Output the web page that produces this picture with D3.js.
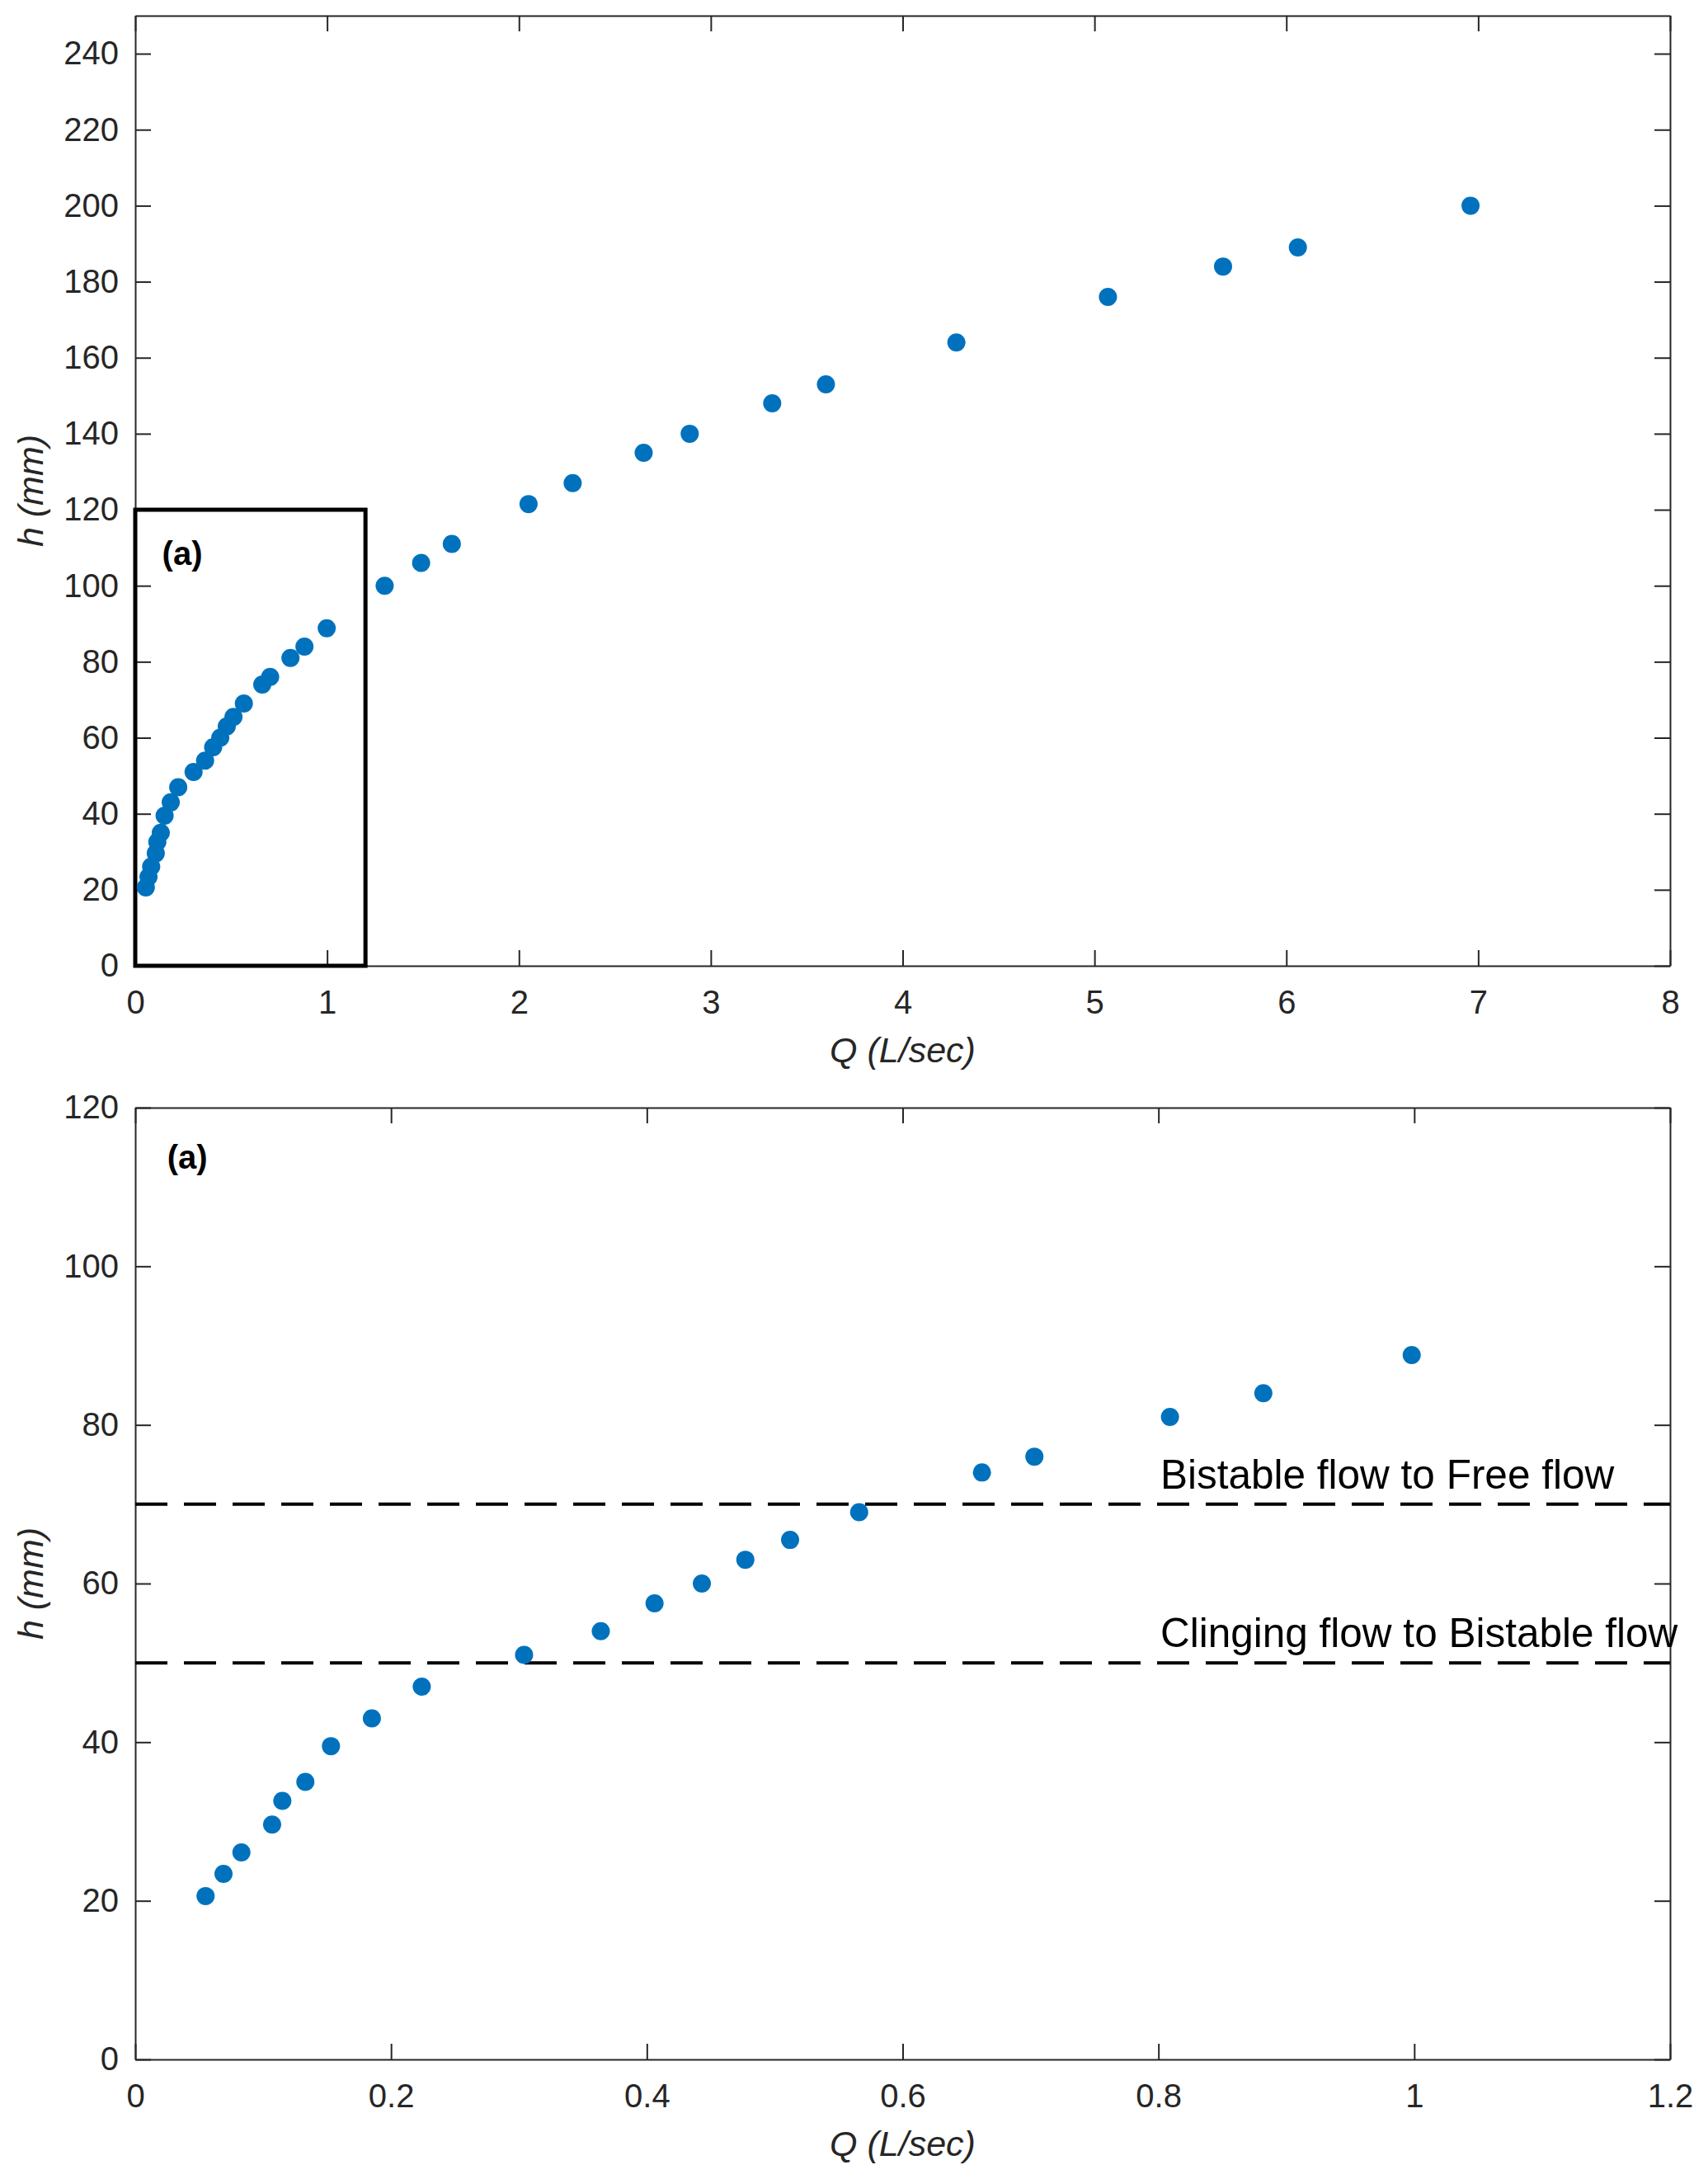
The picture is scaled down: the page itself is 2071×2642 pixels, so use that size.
<!DOCTYPE html>
<html>
<head>
<meta charset="utf-8">
<script src="https://cdn.jsdelivr.net/npm/d3@7/dist/d3.min.js"></script>
<style>
  body { margin: 0; background: #fff; }
  #chart { width: 2071px; height: 2642px; }
</style>
</head>
<body>
<div id="chart"></div>
<script>
// measured points: Q (L/sec) vs h (mm)
const qLow  = [0.055, 0.069, 0.083, 0.107, 0.115, 0.133, 0.153, 0.185, 0.224, 0.304, 0.364,
               0.406, 0.443, 0.477, 0.512, 0.566, 0.662, 0.703, 0.809, 0.882, 0.998];
const hLow  = [20.6, 23.4, 26.1, 29.6, 32.6, 35.0, 39.5, 43.0, 47.0, 51.0, 54.0,
               57.5, 60.0, 63.0, 65.5, 69.0, 74.0, 76.0, 81.0, 84.0, 88.8];
const qHigh = [1.30, 1.49, 1.65, 2.05, 2.28, 2.65, 2.89, 3.32, 3.60, 4.28, 5.07, 5.67, 6.06, 6.96];
const hHigh = [100.0, 106.0, 111.0, 121.5, 127.0, 135.0, 140.0, 148.0, 153.0, 164.0, 176.0, 184.0, 189.0, 200.0];

const xTicksTop    = [0, 1, 2, 3, 4, 5, 6, 7, 8];
const yTicksTop    = [0, 20, 40, 60, 80, 100, 120, 140, 160, 180, 200, 220, 240];
const xTicksBottom = [0, 0.2, 0.4, 0.6, 0.8, 1, 1.2];
const yTicksBottom = [0, 20, 40, 60, 80, 100, 120];

// flow regime thresholds (h, mm)
const regimeH      = [70, 50];
const regimeLabels = ['Bistable flow to Free flow', 'Clinging flow to Bistable flow'];
const zoomExtent   = [1.2, 120];   // Q, h of the framed region in the top panel
const panelLabel   = '(a)';
const xTitle = 'Q (L/sec)';
const yTitle = 'h (mm)';

const chart = {};

chart.create = function(config){
  this.config = config;
  this.config.font = '"Liberation Sans", Arial, sans-serif';
  this.config.axisColor = '#262626';
  this.config.dotColor = '#0072BD';
  this.config.tickLen = 19;
  this.config.svg = d3.select(`#${config.target}`)
                      .append('svg')
                      .attr('width', config.width_svg)
                      .attr('height', config.height_svg);
  this.drawTop();
  this.drawBottom();
}

chart.frame = function(g, x, y, xTicks, yTicks){
  let c = this.config,
      [x0, x1] = x.range(),
      [y0, y1] = y.range(),
      fmt = d3.format('~g');
  g.append('g').attr('transform', `translate(0,${y0})`)
    .call(d3.axisBottom(x).tickValues(xTicks).tickFormat(fmt).tickSize(-c.tickLen).tickSizeOuter(0).tickPadding(30));
  g.append('g').attr('transform', `translate(0,${y1})`)
    .call(d3.axisTop(x).tickValues(xTicks).tickFormat('').tickSize(-c.tickLen).tickSizeOuter(0));
  g.append('g').attr('transform', `translate(${x0},0)`)
    .call(d3.axisLeft(y).tickValues(yTicks).tickFormat(fmt).tickSize(-c.tickLen).tickSizeOuter(0).tickPadding(20));
  g.append('g').attr('transform', `translate(${x1},0)`)
    .call(d3.axisRight(y).tickValues(yTicks).tickFormat('').tickSize(-c.tickLen).tickSizeOuter(0));
  g.selectAll('.domain, .tick line')
    .attr('stroke', c.axisColor)
    .attr('stroke-width', 2);
  g.selectAll('.tick text')
    .attr('font-family', c.font)
    .attr('font-size', 40)
    .attr('fill', c.axisColor);

  g.append('text')
    .attr('x', (x0 + x1) / 2)
    .attr('y', y0 + 117)
    .attr('text-anchor', 'middle')
    .attr('font-family', c.font)
    .attr('font-size', 43)
    .attr('font-style', 'italic')
    .attr('fill', c.axisColor)
    .text(xTitle);
  g.append('text')
    .attr('transform', `translate(52,${(y0 + y1) / 2}) rotate(-90)`)
    .attr('text-anchor', 'middle')
    .attr('font-family', c.font)
    .attr('font-size', 43)
    .attr('font-style', 'italic')
    .attr('fill', c.axisColor)
    .text(yTitle);
}

chart.dots = function(g, x, y, qs, hs){
  g.append('g')
    .selectAll('circle')
    .data(qs.map((q, i) => [q, hs[i]]))
    .enter().append('circle')
            .attr('cx', d => x(d[0]))
            .attr('cy', d => y(d[1]))
            .attr('r', 11)
            .attr('fill', this.config.dotColor);
}

chart.drawTop = function(){
  let c = this.config,
      svg = c.svg.append('g').attr('id', 'g_top');
  let xScale = d3.scaleLinear().domain([0, 8]).range([164, 2025]);
  let yScale = d3.scaleLinear().domain([0, 250]).range([1171, 19]);

  this.frame(svg, xScale, yScale, xTicksTop, yTicksTop);

  svg.append('rect')
    .attr('x', xScale(0))
    .attr('y', yScale(zoomExtent[1]))
    .attr('width', xScale(zoomExtent[0]) - xScale(0))
    .attr('height', yScale(0) - yScale(zoomExtent[1]))
    .attr('fill', 'none')
    .attr('stroke', '#000')
    .attr('stroke-width', 5);
  svg.append('text')
    .attr('x', xScale(0.14))
    .attr('y', yScale(108.5))
    .attr('dy', '0.35em')
    .attr('font-family', c.font)
    .attr('font-size', 40)
    .attr('font-weight', 'bold')
    .text(panelLabel);

  this.dots(svg, xScale, yScale, qLow.concat(qHigh), hLow.concat(hHigh));
}

chart.drawBottom = function(){
  let c = this.config,
      svg = c.svg.append('g').attr('id', 'g_bottom');
  let xScale = d3.scaleLinear().domain([0, 1.2]).range([164, 2025]);
  let yScale = d3.scaleLinear().domain([0, 120]).range([2497, 1343]);

  this.frame(svg, xScale, yScale, xTicksBottom, yTicksBottom);

  svg.append('g')
    .selectAll('line')
    .data(regimeH)
    .enter().append('line')
            .attr('x1', xScale(0))
            .attr('x2', xScale(1.2))
            .attr('y1', d => yScale(d))
            .attr('y2', d => yScale(d))
            .attr('stroke', '#000')
            .attr('stroke-width', 4)
            .attr('stroke-dasharray', '39,20');
  svg.append('g')
    .selectAll('text')
    .data(regimeH)
    .enter().append('text')
            .attr('x', xScale(0.8015))
            .attr('y', d => yScale(d + 2))
            .attr('font-family', c.font)
            .attr('font-size', 49.5)
            .attr('fill', '#000')
            .text((d, i) => regimeLabels[i]);
  svg.append('text')
    .attr('x', xScale(0.025))
    .attr('y', yScale(113.8))
    .attr('dy', '0.35em')
    .attr('font-family', c.font)
    .attr('font-size', 40)
    .attr('font-weight', 'bold')
    .text(panelLabel);

  this.dots(svg, xScale, yScale, qLow, hLow);
}

chart.create({target: 'chart', width_svg: 2071, height_svg: 2642});
</script>
</body>
</html>
